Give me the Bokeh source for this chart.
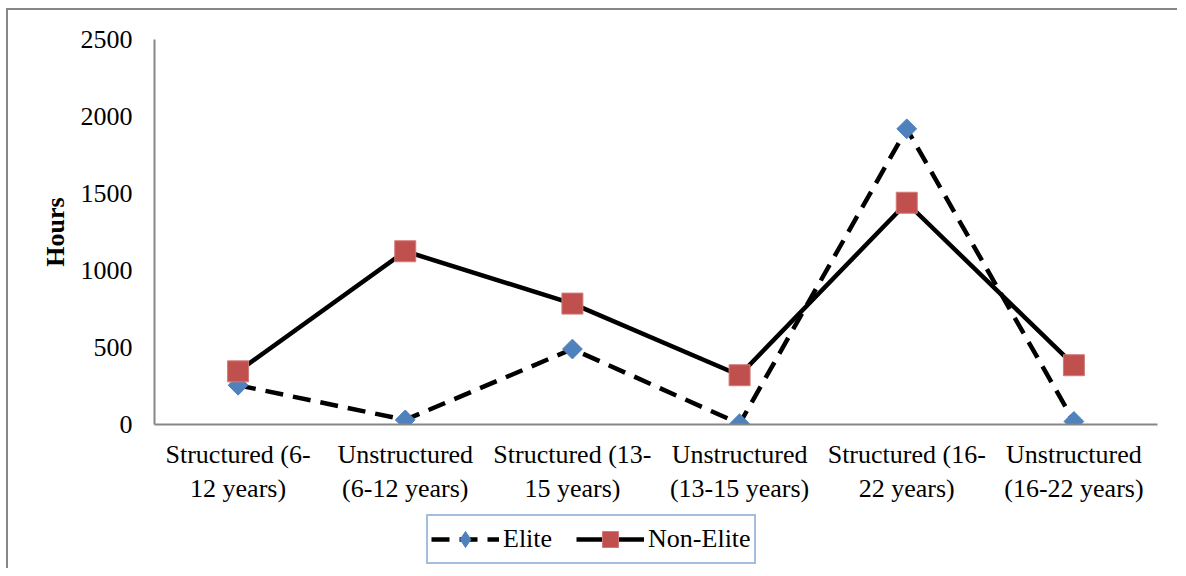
import math
from bokeh.plotting import figure
from bokeh.layouts import column
from bokeh.models import FactorRange, Range1d, FixedTicker, Legend, LegendItem, ColumnDataSource
from bokeh.embed import file_html
from bokeh.resources import INLINE

categories = [
    "Structured (6-\n12 years)",
    "Unstructured\n(6-12 years)",
    "Structured (13-\n15 years)",
    "Unstructured\n(13-15 years)",
    "Structured (16-\n22 years)",
    "Unstructured\n(16-22 years)",
]
elite = [255, 30, 490, 5, 1920, 20]
non_elite = [345, 1125, 785, 320, 1440, 385]
y_ticks = [0, 500, 1000, 1500, 2000, 2500]
series_names = ["Elite", "Non-Elite"]

FONT = "Liberation Serif"
AXIS_GRAY = "#878787"
BLUE = "#4f81bd"
RED = "#c0504d"
ELITE_STYLE = dict(line_color="black", line_width=4.5, line_dash="18 10")
NON_STYLE = dict(line_color="black", line_width=4.5)
ELITE_MARK = dict(marker="square", angle=math.pi / 4, size=14, fill_color=BLUE, line_color=BLUE)
NON_MARK = dict(marker="square", size=21, fill_color=RED, line_color="#d27a77", line_width=1)

src = ColumnDataSource(dict(cat=categories, elite=elite, non_elite=non_elite))

W = 1169
p = figure(
    width=W, height=499,
    x_range=FactorRange(*categories, range_padding=0),
    y_range=Range1d(0, 2500),
    output_backend="svg", toolbar_location=None,
    min_border_left=146, min_border_right=20, min_border_top=29, min_border_bottom=85,
)
p.outline_line_color = None
p.xgrid.grid_line_color = None
p.ygrid.grid_line_color = None

p.yaxis.ticker = FixedTicker(ticks=y_ticks)
for ax in (p.xaxis[0], p.yaxis[0]):
    ax.axis_line_color = AXIS_GRAY
    ax.axis_line_width = 2
    ax.major_tick_line_color = None
    ax.minor_tick_line_color = None
    ax.major_tick_in = 0
    ax.major_tick_out = 0
    ax.minor_tick_in = 0
    ax.minor_tick_out = 0
    ax.major_label_text_font = FONT
    ax.major_label_text_font_size = "26px"
    ax.major_label_text_color = "#000000"
p.yaxis.major_label_standoff = 22
p.xaxis.major_label_standoff = 15
p.yaxis.axis_label = "Hours"
p.yaxis.axis_label_text_font = FONT
p.yaxis.axis_label_text_font_style = "bold"
p.yaxis.axis_label_text_font_size = "26px"
p.yaxis.axis_label_text_color = "#000000"
p.yaxis.axis_label_standoff = 8

p.line("cat", "elite", source=src, **ELITE_STYLE)
p.scatter("cat", "elite", source=src, **ELITE_MARK)
p.line("cat", "non_elite", source=src, **NON_STYLE)
p.scatter("cat", "non_elite", source=src, **NON_MARK)

# legend strip below the chart (its renderers hold points outside the visible range)
pl = figure(
    width=W, height=59, x_range=Range1d(0, 1), y_range=Range1d(0, 1),
    output_backend="svg", toolbar_location=None,
    x_axis_type=None, y_axis_type=None,
    min_border_left=0, min_border_right=0, min_border_top=0, min_border_bottom=0,
)
pl.outline_line_color = None
pl.xgrid.grid_line_color = None
pl.ygrid.grid_line_color = None
hidden = ColumnDataSource(dict(x=[-10, -11], y=[-10, -11]))
el = pl.line("x", "y", source=hidden, **ELITE_STYLE)
em = pl.scatter("x", "y", source=hidden, marker="diamond", size=20, fill_color=BLUE, line_color=BLUE)
nl = pl.line("x", "y", source=hidden, **NON_STYLE)
nm = pl.scatter("x", "y", source=hidden, **NON_MARK)

legend = Legend(
    items=[LegendItem(label=series_names[0], renderers=[el, em], index=0),
           LegendItem(label=series_names[1], renderers=[nl, nm], index=0)],
    location=(272, 4),
    orientation="horizontal",
    label_text_font=FONT,
    label_text_font_size="26px",
    label_text_color="#000000",
    glyph_width=68, glyph_height=40,
    label_standoff=4, spacing=24, padding=3, margin=0,
    border_line_color="#4a7ebb", border_line_width=2,
    background_fill_alpha=1.0,
)
pl.add_layout(legend, "center")

layout = column(p, pl, spacing=0)
layout.styles = {
    "border-top": f"2px solid {AXIS_GRAY}",
    "border-left": f"2px solid {AXIS_GRAY}",
    "margin-left": "6px",
    "margin-top": "8px",
}

open("out.html", "w").write(file_html(layout, INLINE))
